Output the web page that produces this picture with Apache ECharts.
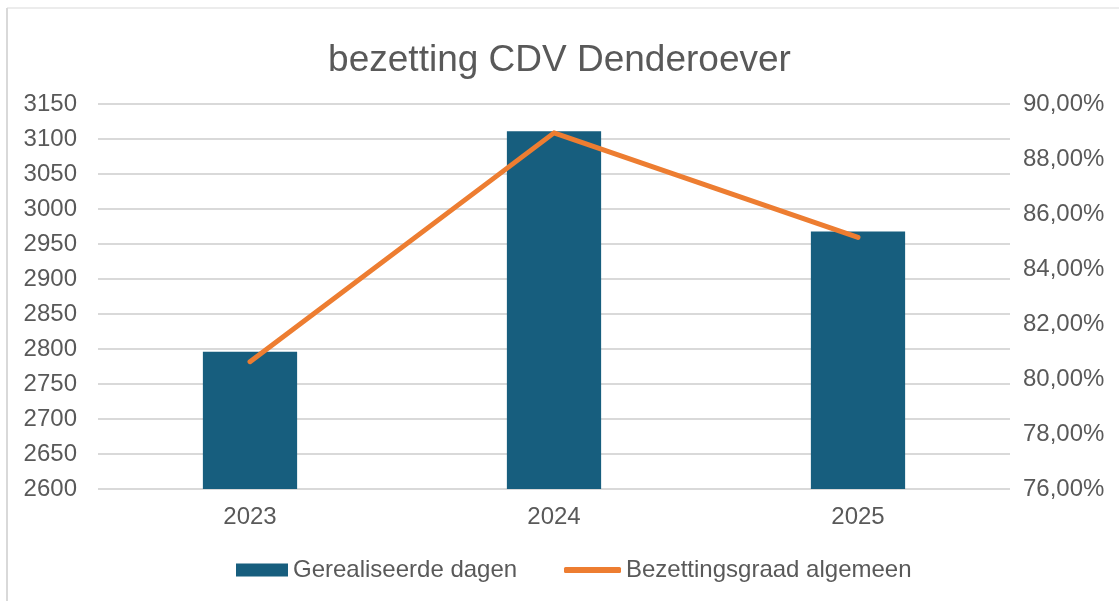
<!DOCTYPE html>
<html>
<head>
<meta charset="utf-8">
<script src="https://cdn.jsdelivr.net/npm/echarts@6/dist/echarts.min.js"></script>
<style>html,body{margin:0;padding:0;background:#fff}#c{width:1119px;height:601px}</style>
</head>
<body>
<div id="c"></div>
<script>
const categories = ['2023', '2024', '2025'];
const gerealiseerdeDagen = [2796, 3111, 2968];
const bezettingsgraad = [80.63, 88.95, 85.15];
const leftTicks = {min: 2600, max: 3150, interval: 50};
const rightTicks = {min: 76, max: 90, interval: 2};

const chart = echarts.init(document.getElementById('c'), null, {renderer: 'canvas'});
const font = '"Liberation Sans", Arial, sans-serif';
const txt = '#595959';
const legendText = {fontFamily: font, fontSize: 24, color: txt};
chart.setOption({
  animation: false,
  backgroundColor: '#fff',
  title: {
    text: 'bezetting CDV Denderoever',
    left: 'center',
    top: 37,
    textStyle: {fontFamily: font, fontSize: 37, fontWeight: 'normal', color: txt}
  },
  graphic: [
    {type: 'line', shape: {x1: 7, y1: 8, x2: 1119, y2: 8}, style: {stroke: '#d9d9d9', lineWidth: 1}},
    {type: 'line', shape: {x1: 7, y1: 8, x2: 7, y2: 601}, style: {stroke: '#d9d9d9', lineWidth: 2}}
  ],
  legend: [
    {
      left: 236, top: 558, padding: 0,
      itemWidth: 52, itemHeight: 13,
      textStyle: legendText,
      data: [{name: 'Gerealiseerde dagen', icon: 'rect'}]
    },
    {
      left: 564, top: 558, padding: 0,
      itemWidth: 57, itemHeight: 6,
      textStyle: legendText,
      data: [{name: 'Bezettingsgraad algemeen', icon: 'roundRect'}]
    }
  ],
  grid: {left: 98, right: 109, top: 104, bottom: 112, containLabel: false},
  xAxis: {
    type: 'category',
    data: categories,
    axisLine: {show: false},
    axisTick: {show: false},
    axisLabel: {fontFamily: font, fontSize: 24, color: txt, margin: 16}
  },
  yAxis: [
    {
      type: 'value',
      min: leftTicks.min, max: leftTicks.max, interval: leftTicks.interval,
      axisLine: {show: false}, axisTick: {show: false},
      axisLabel: {fontFamily: font, fontSize: 24, color: txt, margin: 21, formatter: v => String(v)},
      splitLine: {lineStyle: {color: '#d9d9d9', width: 2}}
    },
    {
      type: 'value',
      min: rightTicks.min, max: rightTicks.max, interval: rightTicks.interval,
      axisLine: {show: false}, axisTick: {show: false},
      splitLine: {show: false},
      axisLabel: {fontFamily: font, fontSize: 24, color: txt, margin: 13,
        formatter: v => v.toFixed(2).replace('.', ',') + '%'}
    }
  ],
  series: [
    {
      name: 'Gerealiseerde dagen',
      type: 'bar',
      data: gerealiseerdeDagen,
      barWidth: '31%',
      itemStyle: {color: '#175E7E'}
    },
    {
      name: 'Bezettingsgraad algemeen',
      type: 'line',
      yAxisIndex: 1,
      data: bezettingsgraad,
      symbol: 'none',
      lineStyle: {color: '#ED7D31', width: 5, cap: 'round', join: 'round'},
      itemStyle: {color: '#ED7D31'}
    }
  ]
});
</script>
</body>
</html>
